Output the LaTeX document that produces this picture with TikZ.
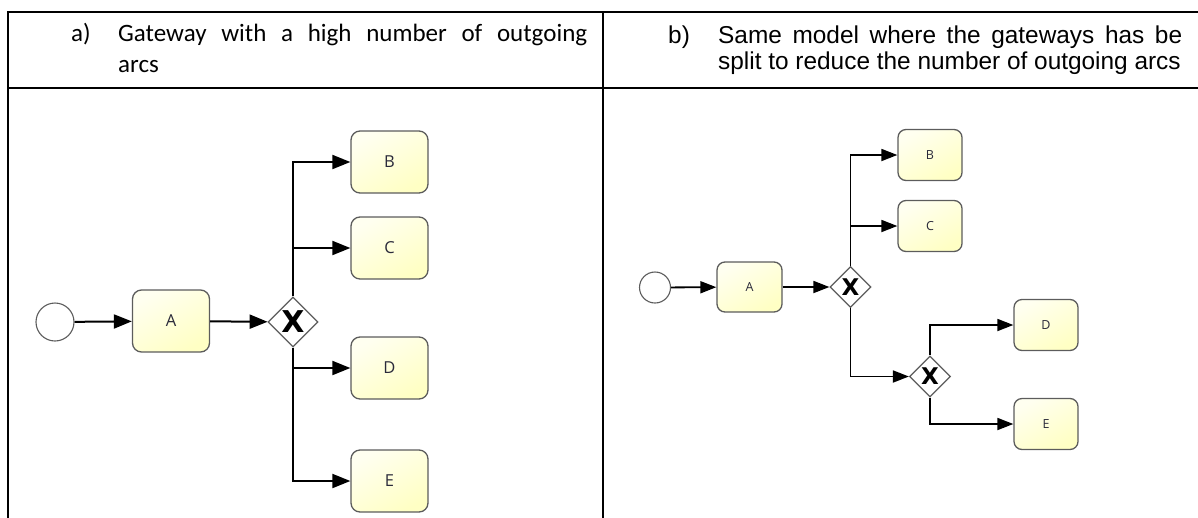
\documentclass[tikz,border=0pt]{standalone}
\usepackage{fontspec}
\usetikzlibrary{shapes.geometric,arrows.meta}
\newfontfamily\capfont{Carlito}
\newfontfamily\headfont{Liberation Sans}
\newfontfamily\lblfont{Open Sans}
\newfontfamily\gatefont{DejaVu Sans}
\definecolor{taskedge}{HTML}{5C5C5C}
\definecolor{tasklight}{HTML}{FFFFF0}
\definecolor{taskdark}{HTML}{FFFFC4}
\definecolor{lbl}{HTML}{2A2A3A}
\tikzset{
  grid/.style={line width=2.3pt, line cap=rect},
  task/.style={draw=taskedge, line width=1.3pt, rounded corners=9pt,
    top color=tasklight, bottom color=taskdark, shading angle=30,
    inner sep=0, font=\lblfont\fontsize{16.5}{18}\selectfont, text=lbl},
  bigtask/.style={task, minimum width=77pt, minimum height=62pt},
  smalltask/.style={task, rounded corners=8pt, minimum width=64pt, minimum height=51pt,
    font=\lblfont\fontsize{12.5}{14}\selectfont},
  gate/.style={diamond, draw=taskedge, fill=white, line width=1.2pt, aspect=1, inner sep=0},
  biggate/.style={gate, minimum width=50pt, minimum height=50pt,
    font=\gatefont\bfseries\fontsize{30}{30}\selectfont},
  smallgate/.style={gate, minimum width=41pt, minimum height=41pt,
    font=\gatefont\bfseries\fontsize{23}{23}\selectfont},
  start/.style={circle, draw=taskedge, fill=white, line width=1.1pt, inner sep=0},
  flow/.style={line width=2pt, -{Triangle[length=18pt,width=14pt]}},
  sflow/.style={line width=1.8pt, -{Triangle[length=16pt,width=12pt]}},
  caption/.style={anchor=base west, inner sep=0},
  capa/.style={caption, font=\capfont\fontsize{25}{30}\selectfont},
  capb/.style={caption, font=\headfont\fontsize{24.4}{28}\selectfont},
}
\begin{document}
\begin{tikzpicture}[x=1pt,y=-1pt]
\useasboundingbox (0,0) rectangle (1198,517);

% table frame
\draw[grid] (1198,12) -- (8,12) -- (8,517);
\draw[grid] (8,88) -- (1198,88);
\draw[grid] (603,12) -- (603,517);

% header texts
\node[capa] (ha) at (71,41) {a)};
\node[capa] (ha1) at (118,41)
  {\makebox[469pt][s]{Gateway with a high number of outgoing}};
\node[capa] (ha2) at (118,72) {arcs};
\node[capb] (hb) at (668,43) {b)};
\node[capb] (hb1) at (718,43)
  {\makebox[464pt][s]{Same model where the gateways has be}};
\node[capb] (hb2) at (718,69)
  {split to reduce the number of outgoing arcs};

% a) single gateway with four outgoing arcs
\node[start, minimum size=38pt] (s1) at (55,322) {};
\node[bigtask] (a1) at (171,321) {A};
\node[biggate] (g1) at (293,322) {X};
\node[bigtask] (b1) at (389.5,162) {B};
\node[bigtask] (c1) at (389.5,248) {C};
\node[bigtask] (d1) at (389.5,368) {D};
\node[bigtask] (e1) at (389.5,481) {E};
\draw[flow] (s1) -- (a1);
\draw[flow] (a1) -- (g1);
\draw[flow] (g1.north) |- (b1.west);
\draw[flow] (g1.north) |- (c1.west);
\draw[flow] (g1.south) |- (d1.west);
\draw[flow] (g1.south) |- (e1.west);

% b) the same model with the gateway split in two
\node[start, minimum size=31pt] (s2) at (655,287.5) {};
\node[smalltask, minimum width=65pt, minimum height=50pt] (a2) at (749.5,287) {A};
\node[smallgate] (g2) at (850.5,287) {X};
\node[smalltask] (b2) at (930,155) {B};
\node[smalltask] (c2) at (930,226) {C};
\node[smallgate] (g3) at (930,376.5) {X};
\node[smalltask] (d2) at (1046,325) {D};
\node[smalltask] (e2) at (1046,424) {E};
\draw[sflow] (s2) -- (a2);
\draw[sflow] (a2) -- (g2);
\draw[sflow] (g2.north) |- (b2.west);
\draw[sflow] (g2.north) |- (c2.west);
\draw[sflow] (g2.south) |- (g3.west);
\draw[sflow] (g3.north) |- (d2.west);
\draw[sflow] (g3.south) |- (e2.west);
\end{tikzpicture}
\end{document}
